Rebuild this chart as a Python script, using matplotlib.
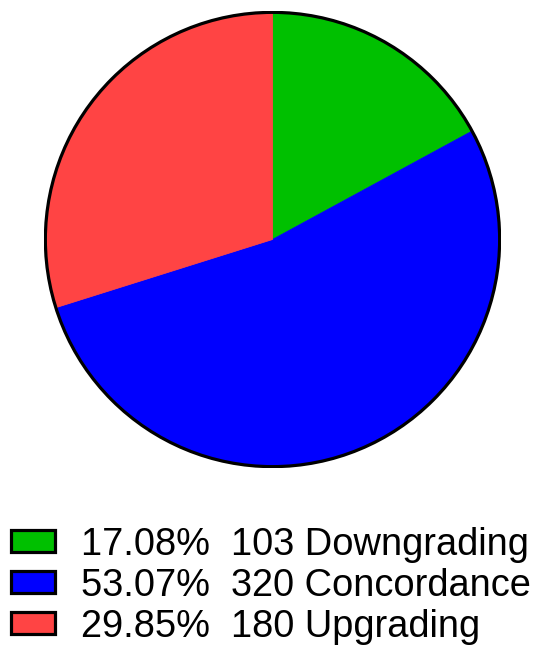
import matplotlib.pyplot as plt
from matplotlib.patches import Circle, Rectangle

labels = ['Downgrading', 'Concordance', 'Upgrading']
counts = [103, 320, 180]
percents = [17.08, 53.07, 29.85]
colors = ['#00C000', '#0000FF', '#FF4444']

W, H = 550, 658
fig = plt.figure(figsize=(W / 100, H / 100), dpi=100)
plt.rcParams['font.family'] = ['Liberation Sans', 'DejaVu Sans']

ax = fig.add_axes([44 / W, 1 - 468 / H, 457 / W, 457 / H])
wedges, _ = ax.pie(counts, colors=colors, startangle=90, counterclock=False,
                   radius=1, wedgeprops=dict(linewidth=0.6))
for w in wedges:
    w.set_edgecolor(w.get_facecolor())
ax.add_patch(Circle((0, 0), 1, fill=False, edgecolor='black', lw=2.3))
ax.set_xlim(-1.006, 1.006)
ax.set_ylim(-1.006, 1.006)
ax.set_aspect('equal')
ax.axis('off')

# legend rows (baseline y in pixels)
rows_y = [555, 596, 637]
for i in range(3):
    y = rows_y[i]
    fig.add_artist(Rectangle((11 / W, 1 - (y - 3) / H), 44 / W, 22 / H,
                             facecolor=colors[i], edgecolor='black', lw=2.3,
                             transform=fig.transFigure))
    fig.text(81 / W, 1 - y / H, f'{percents[i]:.2f}%  {counts[i]} {labels[i]}',
             fontsize=27.4, va='baseline', ha='left')

fig.savefig('out.png', dpi=100)
